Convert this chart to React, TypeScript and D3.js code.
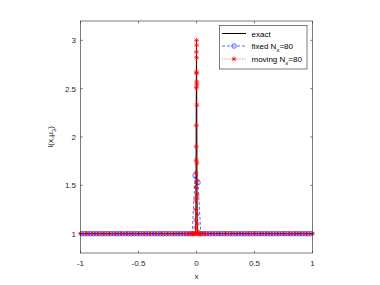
import React from "react";
import * as d3 from "d3";

const xTicks = [-1, -0.5, 0, 0.5, 1];
const yTicks = [1, 1.5, 2, 2.5, 3];

// exact solution (narrow spike at x = 0)
const exactX = [-1, -0.009, -0.006, -0.004, -0.002, 0, 0.002, 0.004, 0.006, 0.009, 1];
const exactY = [1, 1, 1.08, 1.45, 2.3, 3, 2.3, 1.45, 1.08, 1, 1];

// fixed mesh, N_x = 80 (cell centres from -0.9875 to 0.9875)
const fixedY = [
  1, 1, 1, 1, 1, 1, 1, 1, 1, 1,
  1, 1, 1, 1, 1, 1, 1, 1, 1, 1,
  1, 1, 1, 1, 1, 1, 1, 1, 1, 1,
  1, 1, 1, 1, 1, 1, 1, 1, 1, 1.6,
  1.53, 1, 1, 1, 1, 1, 1, 1, 1, 1,
  1, 1, 1, 1, 1, 1, 1, 1, 1, 1,
  1, 1, 1, 1, 1, 1, 1, 1, 1, 1,
  1, 1, 1, 1, 1, 1, 1, 1, 1, 1,
];
const fixedX0 = -0.9875;
const fixedDx = 0.025;

// moving mesh, N_x = 80
const movingX = [
  -1, -0.95, -0.9, -0.85, -0.8, -0.75, -0.7, -0.65, -0.6, -0.55, -0.5, -0.45, -0.4, -0.35, -0.3, -0.25, -0.2, -0.15, -0.1,
  -0.07, -0.05, -0.035, -0.025, -0.018, -0.013, -0.0095,
  -0.0075, -0.0065, -0.0058, -0.0052, -0.0046, -0.004, -0.0034, -0.0028, -0.0022, -0.0016, -0.001, -0.0005, 0,
  0.0005, 0.001, 0.0016, 0.0022, 0.0028, 0.0034, 0.004, 0.0046, 0.0052, 0.0058, 0.0065, 0.0075,
  0.0095, 0.013, 0.018, 0.025, 0.035, 0.05, 0.07,
  0.1, 0.15, 0.2, 0.25, 0.3, 0.35, 0.4, 0.45, 0.5, 0.55, 0.6, 0.65, 0.7, 0.75, 0.8, 0.85, 0.9, 0.95, 1,
];
const movingY = [
  1, 1, 1, 1, 1, 1, 1, 1, 1, 1, 1, 1, 1, 1, 1, 1, 1, 1, 1,
  1, 1, 1, 1, 1, 1, 1,
  1.06, 1.14, 1.25, 1.35, 1.48, 1.63, 1.76, 1.9, 2.12, 2.51, 2.67, 2.88, 3.0,
  2.95, 2.82, 2.66, 2.57, 2.54, 2.33, 1.73, 1.55, 1.4, 1.2, 1.1, 1.03,
  1, 1, 1, 1, 1, 1, 1,
  1, 1, 1, 1, 1, 1, 1, 1, 1, 1, 1, 1, 1, 1, 1, 1, 1, 1, 1,
];

const L = 80.5, R = 312.5, T = 21, B = 253;
const AX = "#262626";
const FONT = "Liberation Sans, Arial, Helvetica, sans-serif";

export default function App() {
  const x = d3.scaleLinear().domain([-1, 1]).range([L, R]);
  const y = d3.scaleLinear().domain([0.8, 3.2]).range([B, T]);
  const line = d3.line<[number, number]>().x((d) => x(d[0])).y((d) => y(d[1]));

  const exact: [number, number][] = exactX.map((v, i) => [v, exactY[i]]);
  const fixed: [number, number][] = fixedY.map((v, i) => [fixedX0 + i * fixedDx, v]);
  const moving: [number, number][] = movingX.map((v, i) => [v, movingY[i]]);

  const star = (cx: number, cy: number, s: number) =>
    `M${cx - s},${cy}L${cx + s},${cy}M${cx},${cy - s}L${cx},${cy + s}` +
    `M${cx - s * 0.7},${cy - s * 0.7}L${cx + s * 0.7},${cy + s * 0.7}M${cx - s * 0.7},${cy + s * 0.7}L${cx + s * 0.7},${cy - s * 0.7}`;

  const tl = 2.3;
  const lgX0 = 222, lgX1 = 246, lgTx = 251.5;
  const lgY = [33.5, 46, 59];

  return (
    <svg width={380} height={285} style={{ position: "absolute", left: 0, top: 0, background: "#fff" }}>
      <rect x={0} y={0} width={380} height={285} fill="#fff" />
      <rect x={L} y={T} width={R - L} height={B - T} fill="#fff" />

      {/* data */}
      <path d={line(exact) || ""} fill="none" stroke="#000" strokeWidth={1} />
      <path d={line(fixed) || ""} fill="none" stroke="#0000ff" strokeWidth={0.6} strokeDasharray="3,2" />
      {fixed.map((d, i) => (
        <circle key={"f" + i} cx={x(d[0])} cy={y(d[1])} r={2.3} fill="none" stroke="#0000ff" strokeWidth={0.6} />
      ))}
      <path d={line(moving) || ""} fill="none" stroke="#ff0000" strokeWidth={0.6} strokeDasharray="1,1.5" />
      {moving.map((d, i) => (
        <path key={"m" + i} d={star(x(d[0]), y(d[1]), 2.5)} fill="none" stroke="#ff0000" strokeWidth={0.7} />
      ))}

      {/* axes box */}
      <rect x={L} y={T} width={R - L} height={B - T} fill="none" stroke={AX} strokeWidth={0.6} />
      {xTicks.map((t) => (
        <g key={"xt" + t}>
          <line x1={x(t)} x2={x(t)} y1={B} y2={B - tl} stroke={AX} strokeWidth={0.6} />
          <line x1={x(t)} x2={x(t)} y1={T} y2={T + tl} stroke={AX} strokeWidth={0.6} />
          <text x={x(t)} y={266} fontSize={8} fontFamily={FONT} fill={AX} textAnchor="middle">
            {t}
          </text>
        </g>
      ))}
      {yTicks.map((t) => (
        <g key={"yt" + t}>
          <line x1={L} x2={L + tl} y1={y(t)} y2={y(t)} stroke={AX} strokeWidth={0.6} />
          <line x1={R} x2={R - tl} y1={y(t)} y2={y(t)} stroke={AX} strokeWidth={0.6} />
          <text x={76} y={y(t) + 3} fontSize={8} fontFamily={FONT} fill={AX} textAnchor="end">
            {t}
          </text>
        </g>
      ))}
      <text x={(L + R) / 2} y={279} fontSize={8} fontFamily={FONT} fill={AX} textAnchor="middle">
        x
      </text>
      <text transform={`translate(53,${(T + B) / 2}) rotate(-90)`} fontSize={8} fontFamily={FONT} fill={AX} textAnchor="middle">
        I(x,μ<tspan baselineShift="sub" fontSize={6}>3</tspan>)
      </text>

      {/* legend */}
      <rect x={219.5} y={25.5} width={87.5} height={43.5} fill="#fff" stroke={AX} strokeWidth={0.6} />
      <line x1={lgX0} x2={lgX1} y1={lgY[0]} y2={lgY[0]} stroke="#000" strokeWidth={1} />
      <text x={lgTx} y={lgY[0] + 3} fontSize={8} fontFamily={FONT} fill="#000">exact</text>
      <line x1={lgX0} x2={lgX1} y1={lgY[1]} y2={lgY[1]} stroke="#0000ff" strokeWidth={0.6} strokeDasharray="3,2" />
      <circle cx={(lgX0 + lgX1) / 2} cy={lgY[1]} r={2.3} fill="none" stroke="#0000ff" strokeWidth={0.6} />
      <text x={lgTx} y={lgY[1] + 3} fontSize={8} fontFamily={FONT} fill="#000">
        fixed N<tspan baselineShift="sub" fontSize={6}>x</tspan>=80
      </text>
      <line x1={lgX0} x2={lgX1} y1={lgY[2]} y2={lgY[2]} stroke="#ff0000" strokeWidth={0.6} strokeDasharray="1,1.5" />
      <path d={star((lgX0 + lgX1) / 2, lgY[2], 2.5)} fill="none" stroke="#ff0000" strokeWidth={0.7} />
      <text x={lgTx} y={lgY[2] + 3} fontSize={8} fontFamily={FONT} fill="#000">
        moving N<tspan baselineShift="sub" fontSize={6}>x</tspan>=80
      </text>
    </svg>
  );
}
